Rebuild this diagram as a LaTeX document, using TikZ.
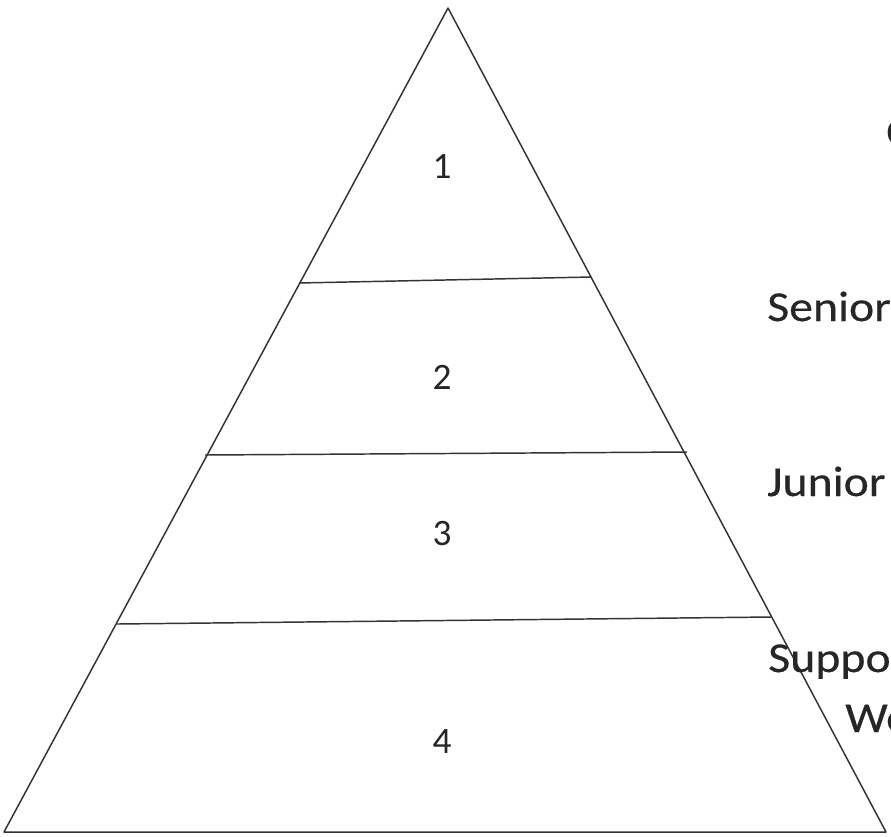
\documentclass[tikz,border=0pt]{standalone}
\usepackage{fontspec}
\setmainfont{Carlito}
\newfontfamily\widefont[FakeStretch=1.12,FakeBold=0.4]{Carlito}
\begin{document}
\begin{tikzpicture}[x=0.75pt,y=-0.75pt,
  edge/.style={draw=black!80,line width=1.1pt},
  num/.style={font=\fontsize{28}{32}\selectfont,text=black!85,inner sep=0pt,anchor=base},
  lbl/.style={font=\widefont\fontsize{32}{38}\selectfont,text=black!85,inner sep=0pt,anchor=base west}]
\path[use as bounding box,fill=white] (0,0) rectangle (891,836);
\clip (0,0) rectangle (891,836);
\coordinate (A) at (448,8);
\coordinate (BL) at (4,832);
\coordinate (BR) at (886,832);
\coordinate (L1a) at (299,283);
\coordinate (L1b) at (591,277);
\coordinate (L2a) at (205,455);
\coordinate (L2b) at (687,452);
\coordinate (L3a) at (117,624);
\coordinate (L3b) at (771,617);
\draw[edge,line join=round] (A) -- (BL) -- (BR) -- cycle;
\draw[edge] (L1a) -- (L1b);
\draw[edge] (L2a) -- (L2b);
\draw[edge] (L3a) -- (L3b);
\node[num] (n1) at (442,178) {1};
\node[num] (n2) at (442,389) {2};
\node[num] (n3) at (442,545) {3};
\node[num] (n4) at (442,753) {4};
\node[lbl] (c) at (886,146) {C};
\node[lbl] (s) at (767,321) {Senior};
\node[lbl] (j) at (767,496) {Junior};
\node[lbl] (p) at (768,672) {Suppo};
\node[lbl] (w) at (845,732) {We};
\end{tikzpicture}
\end{document}
